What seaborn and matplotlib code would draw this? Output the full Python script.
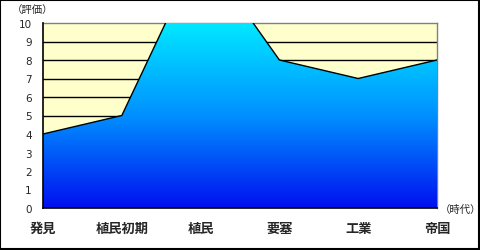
import numpy as np
import matplotlib
matplotlib.use("Agg")
import matplotlib.pyplot as plt
import matplotlib.patches as mpatches
from matplotlib.colors import LinearSegmentedColormap
import seaborn as sns
import pandas as pd

categories = ["発見", "植民初期", "植民", "要塞", "工業", "帝国"]
values = [4, 5, 14, 8, 7, 8]
y_ticks = [0, 1, 2, 3, 4, 5, 6, 7, 8, 9, 10]

sns.set_style("white")
plt.rcParams['font.family'] = ['Noto Sans CJK JP', 'DejaVu Sans']

df = pd.DataFrame({"pos": np.arange(len(categories)), "val": values})

fig = plt.figure(figsize=(4.8, 2.51), dpi=100)
ax = fig.add_axes([43/480, 1-209/251, (437-43)/480, (209-24)/251])
ax.set_facecolor("#FFFFCC")

# gridlines
for t in y_ticks[1:-1]:
    ax.axhline(t, color="black", lw=1.0, zorder=1)

poly = ax.fill_between(df["pos"], 0, df["val"], color="none", zorder=2)
cmap = LinearSegmentedColormap.from_list("g", ["#0010F0", "#0090FF", "#00E8FF"])
grad = np.linspace(0, 1, 256).reshape(-1, 1)
im = ax.imshow(grad, aspect="auto", cmap=cmap, origin="lower",
               extent=[0, len(categories)-1, 0, 10], zorder=2)
path = poly.get_paths()[0]
im.set_clip_path(mpatches.PathPatch(path, transform=ax.transData, facecolor="none", edgecolor="none"))

sns.lineplot(data=df, x="pos", y="val", ax=ax, color="black", lw=1.0, zorder=3)

ax.set_xlim(0, len(categories)-1)
ax.set_ylim(0, 10)
ax.set_yticks(y_ticks)
ax.set_yticklabels([str(t) for t in y_ticks], fontsize=7.5, family="DejaVu Sans")
ax.set_xticks(df["pos"])
ax.set_xticklabels(categories, fontsize=9.5, fontweight="bold")
ax.tick_params(axis="x", direction="in", length=3, width=1, color="black", pad=9)
ax.tick_params(axis="y", length=0, pad=8)
ax.set_xlabel("")
ax.set_ylabel("")

for s in ["left", "bottom"]:
    ax.spines[s].set_color("black")
    ax.spines[s].set_linewidth(1.2)
    ax.spines[s].set_zorder(5)
for s in ["top", "right"]:
    ax.spines[s].set_color("#808080")
    ax.spines[s].set_linewidth(1.0)
    ax.spines[s].set_zorder(1.5)

fig.text(12/480, 1-10/251, "（評価）", fontsize=7.5, ha="left", va="center")
fig.text(440/480, 1-210/251, "（時代）", fontsize=7.5, ha="left", va="center")

fig.add_artist(mpatches.Rectangle((0.001, 0.002), 0.997, 0.995, transform=fig.transFigure,
                                  fill=False, edgecolor="black", lw=1.5))

fig.savefig("out.png", dpi=100)
